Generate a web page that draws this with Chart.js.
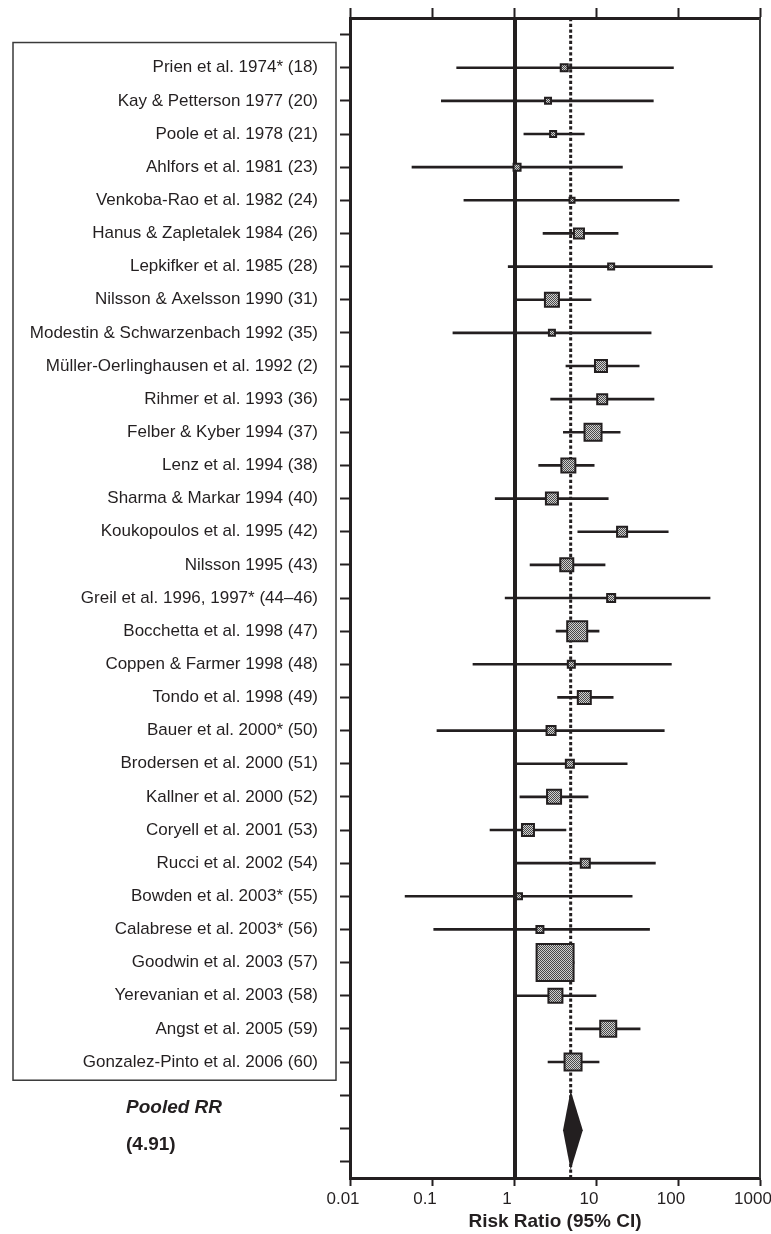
<!DOCTYPE html>
<html>
<head>
<meta charset="utf-8">
<script src="https://cdn.jsdelivr.net/npm/chart.js@4.4.1/dist/chart.umd.min.js"></script>
<style>
  html, body { margin: 0; padding: 0; background: #fff; }
  #wrap { width: 771px; height: 1234px; position: relative; }
</style>
</head>
<body>
<div id="wrap"><canvas id="chart"></canvas></div>
<script>
var studies = [
  "Prien et al. 1974* (18)",
  "Kay & Petterson 1977 (20)",
  "Poole et al. 1978 (21)",
  "Ahlfors et al. 1981 (23)",
  "Venkoba-Rao et al. 1982 (24)",
  "Hanus & Zapletalek 1984 (26)",
  "Lepkifker et al. 1985 (28)",
  "Nilsson & Axelsson 1990 (31)",
  "Modestin & Schwarzenbach 1992 (35)",
  "Müller-Oerlinghausen et al. 1992 (2)",
  "Rihmer et al. 1993 (36)",
  "Felber & Kyber 1994 (37)",
  "Lenz et al. 1994 (38)",
  "Sharma & Markar 1994 (40)",
  "Koukopoulos et al. 1995 (42)",
  "Nilsson 1995 (43)",
  "Greil et al. 1996, 1997* (44–46)",
  "Bocchetta et al. 1998 (47)",
  "Coppen & Farmer 1998 (48)",
  "Tondo et al. 1998 (49)",
  "Bauer et al. 2000* (50)",
  "Brodersen et al. 2000 (51)",
  "Kallner et al. 2000 (52)",
  "Coryell et al. 2001 (53)",
  "Rucci et al. 2002 (54)",
  "Bowden et al. 2003* (55)",
  "Calabrese et al. 2003* (56)",
  "Goodwin et al. 2003 (57)",
  "Yerevanian et al. 2003 (58)",
  "Angst et al. 2005 (59)",
  "Gonzalez-Pinto et al. 2006 (60)"
];
var riskRatio = [4.1, 2.6, 3.0, 1.09, 5.1, 6.2, 15.3, 2.9, 2.9, 11.5, 11.9, 9.2, 4.6, 2.9, 20.8, 4.4,
  15.3, 5.9, 5.0, 7.2, 2.83, 4.8, 3.08, 1.48, 7.4, 1.15, 2.07, 3.17, 3.2, 14.1, 5.25];
var ciLow = [0.2, 0.13, 1.32, 0.057, 0.245, 2.26, 0.85, 0.99, 0.18, 4.3, 2.8, 4.0, 2.0, 0.59, 6.0, 1.57,
  0.78, 3.26, 0.316, 3.4, 0.115, 1.05, 1.18, 0.51, 1.05, 0.047, 0.105, 1.9, 0.99, 5.6, 2.6];
var ciHigh = [88, 50, 7.2, 21, 103, 18.6, 262, 8.7, 47, 33.6, 51, 19.7, 9.5, 14.1, 76, 12.9,
  246, 10.9, 83, 16.2, 68, 24, 8.0, 4.3, 53, 27.6, 45, 5.4, 10.0, 34.5, 10.9];
var weights = [4.5, 4, 4, 4.5, 3.5, 6, 4, 8, 4, 7, 6, 9.5, 8, 7, 6, 7.5,
  5, 11, 4.5, 7.5, 5.5, 5, 8, 7, 5.5, 4, 4.5, 19.5, 8, 9, 9.5];
var pooledRR = [3.96, 4.91, 6.9];
var xTicks = [0.01, 0.1, 1, 10, 100, 1000];
var xTickLabels = ["0.01", "0.1", "1", "10", "100", "1000"];

var ink = "#231f20";
var fontFamily = '"Liberation Sans", Arial, Helvetica, sans-serif';
Chart.defaults.font.family = fontFamily;
Chart.defaults.color = ink;

// one empty row above the studies, three below for the pooled estimate
var rows = [" "].concat(studies, ["  ", "   ", "    "]);
var ciBars = [null].concat(studies.map(function (s, i) { return [ciLow[i], ciHigh[i]]; }), [null, null, null]);
var rrPoints = [null].concat(riskRatio, [null, null, null]);
var radii = [0].concat(weights.map(function (w) { return (2 * w - 2) / Math.SQRT2; }), [0, 0, 0]);

var canvas = document.getElementById("chart");
var ctx = canvas.getContext("2d");

// stippled grey fill for the study boxes
var pc = document.createElement("canvas");
pc.width = 2; pc.height = 2;
var pctx = pc.getContext("2d");
pctx.fillStyle = "#d0d0d0"; pctx.fillRect(0, 0, 2, 2);
pctx.fillStyle = "#4a4a4a"; pctx.fillRect(0, 0, 1, 1); pctx.fillRect(1, 1, 1, 1);
var stipple = ctx.createPattern(pc, "repeat");

function setTicks(scale) {
  scale.ticks = xTicks.map(function (v) { return { value: v }; });
}

function noPadding(s) {
  s.paddingLeft = 0; s.paddingRight = 0; s.paddingTop = 0; s.paddingBottom = 0;
}

var forestPlugin = {
  id: "forest",
  beforeDatasetsDraw: function (chart) {
    var c = chart.ctx, a = chart.chartArea, x = chart.scales.x;
    c.save();
    var x1 = x.getPixelForValue(1) + 1;
    c.strokeStyle = ink;
    c.lineWidth = 4;
    c.beginPath(); c.moveTo(x1, a.top); c.lineTo(x1, a.bottom); c.stroke();
    var xp = x.getPixelForValue(pooledRR[1]);
    c.lineWidth = 3;
    c.setLineDash([3.3, 2.4]);
    c.beginPath(); c.moveTo(xp, a.top); c.lineTo(xp, a.bottom); c.stroke();
    c.restore();
  },
  afterDatasetsDraw: function (chart) {
    var c = chart.ctx, a = chart.chartArea, x = chart.scales.x, y = chart.scales.y;
    var rowH = y.getPixelForValue(1) - y.getPixelForValue(0);
    c.save();
    // pooled diamond
    var yc = y.getPixelForValue(studies.length + 2) + 2;
    var h = rowH * 1.2;
    c.fillStyle = ink;
    c.beginPath();
    c.moveTo(x.getPixelForValue(pooledRR[0]), yc);
    c.lineTo(x.getPixelForValue(pooledRR[1]), yc - h);
    c.lineTo(x.getPixelForValue(pooledRR[2]), yc);
    c.lineTo(x.getPixelForValue(pooledRR[1]), yc + h);
    c.closePath();
    c.fill();
    // right frame line
    c.strokeStyle = "#3a3a3a";
    c.lineWidth = 2;
    c.beginPath(); c.moveTo(a.right, a.top); c.lineTo(a.right, a.bottom); c.stroke();
    c.restore();
  },
  afterDraw: function (chart) {
    var c = chart.ctx, y = chart.scales.y;
    var rowH = y.getPixelForValue(1) - y.getPixelForValue(0);
    c.save();
    // box round the study labels
    var top = y.getPixelForValue(1) - 0.76 * rowH;
    var bottom = y.getPixelForValue(studies.length) + 0.55 * rowH;
    c.strokeStyle = "#3a3a3a";
    c.lineWidth = 1.5;
    c.strokeRect(13, top, 323, bottom - top);
    // pooled labels
    var n = studies.length;
    c.fillStyle = ink;
    c.textAlign = "left";
    c.textBaseline = "middle";
    c.font = "italic bold 19px " + fontFamily;
    c.fillText("Pooled RR", 126, (y.getPixelForValue(n + 1) + y.getPixelForValue(n + 2)) / 2 - 4);
    c.font = "bold 19px " + fontFamily;
    c.fillText("(" + pooledRR[1].toFixed(2) + ")", 126, (y.getPixelForValue(n + 2) + y.getPixelForValue(n + 3)) / 2);
    c.restore();
  }
};

var chart = new Chart(canvas, {
  type: "bar",
  data: {
    labels: rows,
    datasets: [{
      type: "bar",
      indexAxis: "y",
      data: ciBars,
      backgroundColor: ink,
      borderWidth: 0,
      barThickness: 2,
      order: 2,
      xAxisID: "x",
      yAxisID: "y"
    }, {
      type: "line",
      indexAxis: "y",
      data: rrPoints,
      showLine: false,
      pointStyle: "rect",
      pointRadius: radii,
      pointBackgroundColor: stipple,
      pointBorderColor: ink,
      pointBorderWidth: 2,
      order: 1,
      xAxisID: "x",
      yAxisID: "y"
    }]
  },
  options: {
    indexAxis: "y",
    responsive: true,
    maintainAspectRatio: false,
    animation: false,
    layout: { padding: { left: 0, right: 11, top: 0, bottom: 0 } },
    plugins: { legend: { display: false }, tooltip: { enabled: false } },
    scales: {
      x: {
        type: "logarithmic",
        position: "bottom",
        min: 0.01,
        max: 1000,
        afterBuildTicks: setTicks,
        ticks: {
          callback: function (v, i) { return xTickLabels[i]; },
          font: { size: 17 },
          padding: 3,
          labelOffset: -7,
          maxRotation: 0,
          autoSkip: false
        },
        grid: { drawOnChartArea: false, drawTicks: true, tickLength: 8, tickWidth: 2, tickColor: ink },
        border: { display: true, width: 3, color: ink },
        title: { display: true, text: "Risk Ratio (95% CI)", font: { size: 19, weight: "bold" }, padding: { top: 0, bottom: 1 } },
        afterFit: function (s) { s.height = 56; noPadding(s); }
      },
      x2: {
        type: "logarithmic",
        position: "top",
        min: 0.01,
        max: 1000,
        afterBuildTicks: setTicks,
        ticks: { display: false },
        grid: { drawOnChartArea: false, drawTicks: true, tickLength: 10, tickWidth: 2, tickColor: ink },
        border: { display: true, width: 3, color: ink },
        afterFit: function (s) { s.height = 18; noPadding(s); }
      },
      y: {
        type: "category",
        position: "left",
        offset: true,
        ticks: { font: { size: 17 }, padding: 22, autoSkip: false },
        grid: { drawOnChartArea: false, offset: false, drawTicks: true, tickLength: 10, tickWidth: 2, tickColor: ink },
        border: { display: true, width: 3, color: ink },
        afterFit: function (s) { s.width = 350; noPadding(s); }
      }
    }
  },
  plugins: [forestPlugin]
});
</script>
</body>
</html>
